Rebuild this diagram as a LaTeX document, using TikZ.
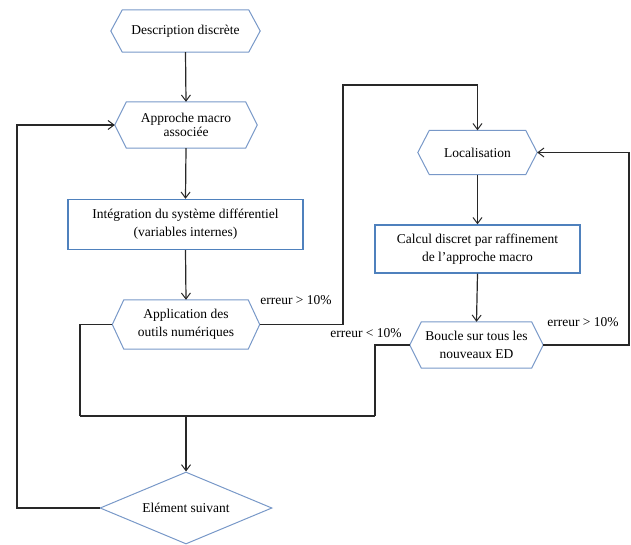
\documentclass[tikz,border=0pt]{standalone}
\usepackage{fontspec}
\setmainfont{Liberation Serif}
\usetikzlibrary{arrows.meta,shapes.geometric}
\definecolor{hexblue}{RGB}{120,152,200}
\definecolor{boxblue}{RGB}{79,129,189}
\definecolor{lin}{RGB}{40,40,40}
\tikzset{
  txt/.style={font=\fontsize{13.5}{18}\selectfont, align=center, inner sep=0pt},
  hexa/.style={txt, shape=rectangle},
  boxnode/.style={txt, draw=boxblue, line width=1.4pt},
  hexline/.style={draw=hexblue, line width=1pt, line join=miter},
  conn/.style={draw=lin, line width=1.2pt},
  arr/.style={conn, -{Straight Barb[length=6pt,width=9pt,line width=1pt]}},
  lab/.style={font=\fontsize{13.5}{16}\selectfont, inner sep=0pt}
}
\begin{document}
\begin{tikzpicture}[x=1pt,y=-1pt]
\useasboundingbox (0,0) rectangle (631,545);
% hexagon-like nodes
\node[hexa, minimum width=149pt, minimum height=42pt] (desc) at (185.5,31) {Description discrète};
\node[hexa, minimum width=142pt, minimum height=46pt, font=\fontsize{13.5}{14}\selectfont] (appr) at (186,125) {Approche macro\\associée};
\node[boxnode, minimum width=235pt, minimum height=50pt] (integ) at (185.5,224.5) {Intégration du système différentiel\\(variables internes)};
\node[hexa, minimum width=147pt, minimum height=49pt] (appl) at (186,324.5) {Application des\\outils numériques};
\node[hexa, minimum width=119pt, minimum height=44pt] (loc) at (477.5,152.5) {Localisation};
\node[boxnode, minimum width=205pt, minimum height=48pt] (calc) at (477.5,249) {Calcul discret par raffinement\\de l'approche macro};
\node[hexa, minimum width=133pt, minimum height=46pt] (bou) at (476.5,345) {Boucle sur tous les\\nouveaux ED};
\node[txt, shape=diamond, draw=hexblue, line width=1pt, minimum width=172pt, minimum height=72pt, aspect=2.39] (diam) at (186,508) {Elément suivant};
% hexagon outlines
\foreach \n in {desc,appr,appl,loc,bou}{
  \draw[hexline] (\n.west) -- ([xshift=11.5pt]\n.north west) -- ([xshift=-11.5pt]\n.north east) -- (\n.east) -- ([xshift=-11.5pt]\n.south east) -- ([xshift=11.5pt]\n.south west) -- cycle;
}
% helper coordinates
\coordinate (r1) at (343,85);
\coordinate (r2) at (629,250);
\coordinate (j1) at (80,416);
\coordinate (j2) at (375,416);
\coordinate (j3) at (186,416);
\coordinate (l1) at (17,300);
% connectors
\draw[arr] (desc.south) -- (appr.north);
\draw[arr] (appr.south) -- (integ.north);
\draw[arr] (integ.south) -- (appl.north);
\draw[arr] (appl.east) -| (r1) -| (loc.north);
\draw[arr] (loc.south) -- (calc.north);
\draw[arr] (calc.south) -- (bou.north);
\draw[arr] (bou.east) -| (r2) |- (loc.east);
\draw[conn] (bou.west) -| (j2);
\draw[conn] (appl.west) -| (j1);
\draw[conn] (j1) -- (j2);
\draw[arr] (j3) -- (diam.north);
\draw[arr] (diam.west) -| (l1) |- (appr.west);
% labels
\node[lab] (lab1) at (296,300) {erreur > 10\%};
\node[lab] (lab2) at (366,333) {erreur < 10\%};
\node[lab] (lab3) at (583,322) {erreur > 10\%};
\end{tikzpicture}
\end{document}
